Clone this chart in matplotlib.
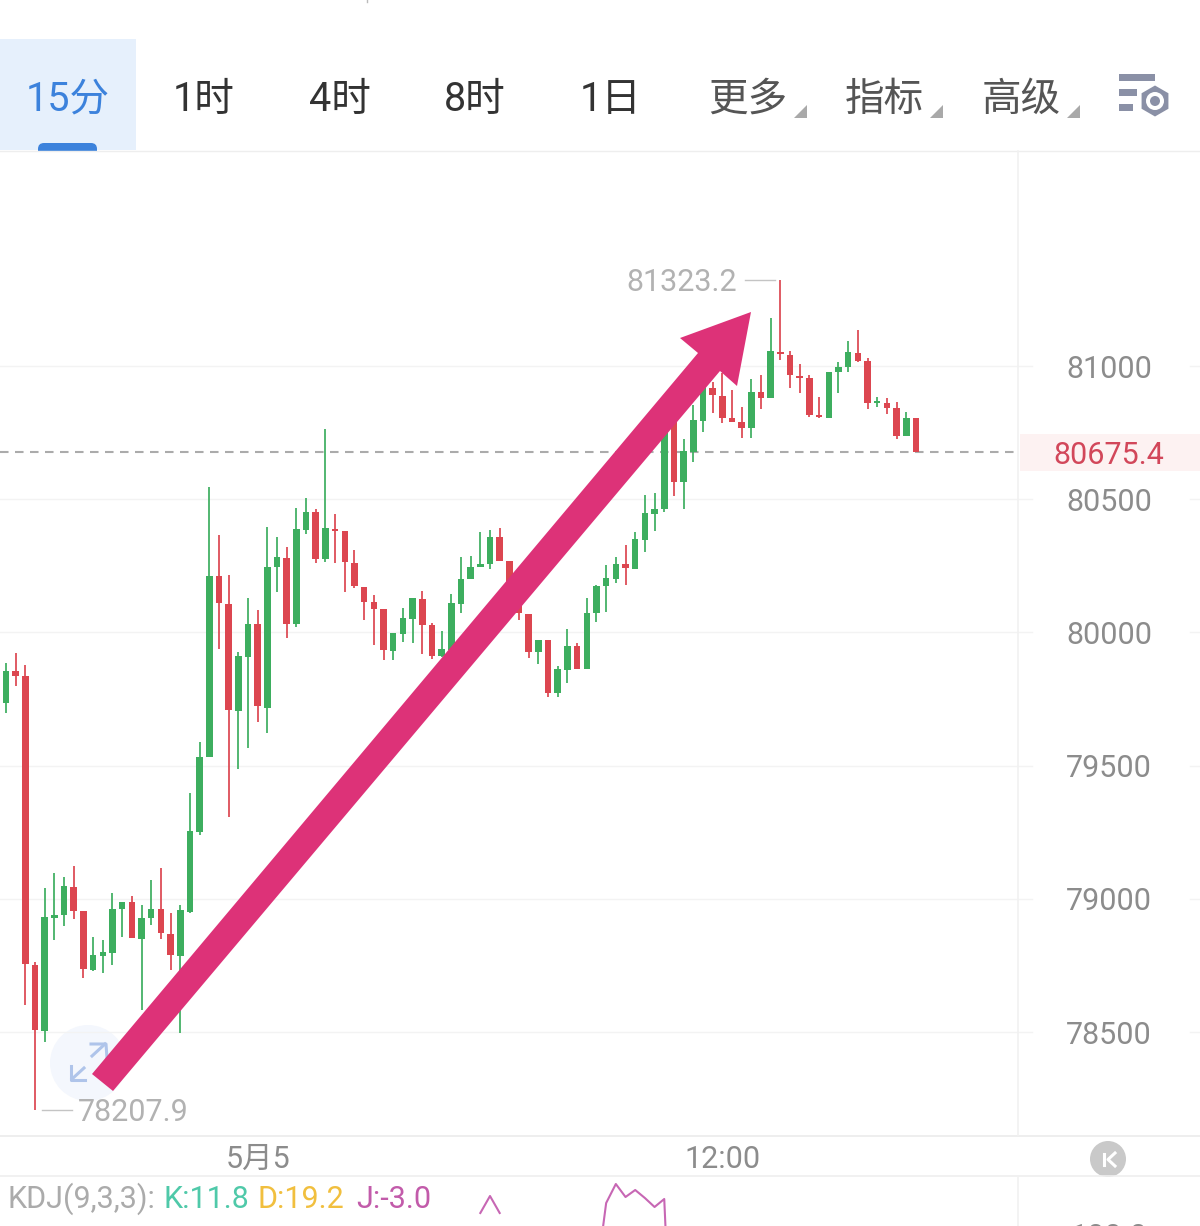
import matplotlib
matplotlib.use("Agg")
import matplotlib.pyplot as plt
from matplotlib.patches import Rectangle, Polygon, Circle, RegularPolygon, FancyBboxPatch

plt.rcParams['font.family'] = ['Roboto', 'Noto Sans CJK SC', 'DejaVu Sans']

# candles
highs = [79885, 79923, 79878, 78763, 79040, 79097, 79082, 79123, 78954, 78856,
         78845, 79022, 78988, 79010, 78977, 79071, 79115, 78947, 78977, 79397,
         79588, 80546, 80366, 80215, 79926, 80129, 80084, 80396, 80358, 80321,
         80467, 80504, 80463, 80763, 80444, 80381, 80309, 80170, 80140, 80088,
         79998, 80092, 80129, 80155, 80035, 80005, 80144, 80283, 80287, 80377,
         80384, 80392, 80268, 80159, 80069, 79971, 79971, 79874, 80013, 79960,
         80129, 80178, 80253, 80283, 80328, 80377, 80516, 80523, 80797, 80816,
         80726, 80854, 80966, 80940, 80974, 80910, 80846, 80951, 80966, 81180,
         81323.2, 81056, 81008, 80966, 80884, 80977, 81015, 81094, 81135, 81030,
         80884, 80880, 80865, 80827, 80805]
lows = [79697, 79799, 78601, 78207.9, 78462, 78845, 78898, 78924, 78702, 78729,
        78721, 78751, 78856, 78853, 78582, 78902, 78849, 78733, 78496, 78947,
        79239, 79532, 79938, 79307, 79487, 79566, 79664, 79622, 80152, 79979,
        80020, 80369, 80260, 80264, 80260, 80152, 80167, 80046, 79953, 79896,
        79896, 79964, 79960, 79919, 79900, 79908, 79930, 80073, 80200, 80245,
        80238, 80268, 80159, 80046, 79904, 79881, 79757, 79757, 79810, 79863,
        79863, 80039, 80077, 80185, 80178, 80238, 80302, 80381, 80452, 80512,
        80463, 80640, 80752, 80824, 80786, 80790, 80730, 80730, 80839, 80880,
        81023, 80917, 80899, 80809, 80805, 80805, 80899, 80977, 81015, 80839,
        80846, 80820, 80726, 80737, 80675.4]
body_tops = [79855, 79855, 79836, 78751, 78932, 78939, 79048, 79044, 78954, 78789,
             78800, 78962, 78988, 78988, 78928, 78962, 78962, 78868, 78958, 79254,
             79532, 80212, 80212, 80107, 79911, 80031, 80031, 80245, 80283, 80279,
             80388, 80452, 80452, 80392, 80388, 80381, 80260, 80170, 80114, 80088,
             79998, 80054, 80129, 80125, 80028, 79938, 80110, 80200, 80245, 80257,
             80358, 80358, 80268, 80159, 80069, 79971, 79971, 79863, 79949, 79949,
             80073, 80174, 80204, 80257, 80257, 80351, 80448, 80463, 80779, 80797,
             80681, 80797, 80929, 80917, 80887, 80805, 80790, 80902, 80902, 81056,
             81053, 81041, 80962, 80955, 80816, 80977, 80996, 81053, 81049, 81019,
             80865, 80861, 80842, 80805, 80805]
body_bottoms = [79735, 79836, 78755, 78507, 78504, 78928, 78939, 78954, 78736, 78733,
                78785, 78796, 78962, 78853, 78849, 78928, 78871, 78789, 78785, 78950,
                79251, 79532, 80110, 79709, 79705, 79908, 79724, 79716, 80245, 80031,
                80031, 80384, 80275, 80275, 80381, 80264, 80174, 80114, 80088, 79934,
                79930, 79994, 80050, 80028, 79911, 79911, 79934, 80107, 80200, 80245,
                80257, 80268, 80159, 80073, 79926, 79926, 79772, 79772, 79859, 79863,
                79863, 80073, 80174, 80200, 80242, 80238, 80347, 80444, 80463, 80565,
                80565, 80677, 80794, 80891, 80805, 80790, 80767, 80767, 80880, 80880,
                81045, 80966, 80955, 80816, 80809, 80805, 80977, 80996, 81019, 80861,
                80861, 80842, 80737, 80737, 80675.4]
# 1 = green candle, 0 = red candle
is_up = [1, 0, 0, 0, 1, 1, 1, 0, 0, 1,
         1, 1, 1, 0, 1, 1, 0, 0, 1, 1,
         1, 1, 0, 0, 1, 1, 0, 1, 1, 0,
         1, 1, 0, 1, 0, 0, 0, 0, 0, 0,
         1, 1, 1, 0, 0, 1, 1, 1, 1, 1,
         1, 0, 0, 0, 0, 1, 0, 1, 1, 0,
         1, 1, 1, 1, 0, 1, 1, 1, 1, 0,
         1, 1, 1, 0, 0, 0, 0, 1, 0, 1,
         0, 0, 0, 0, 0, 1, 1, 1, 0, 0,
         1, 0, 0, 1, 0]

price_ticks = [81000, 80500, 80000, 79500, 79000, 78500]
last_price = 80675.4
high_price = 81323.2
low_price = 78207.9
time_pos = [26, 74]
time_labels = ["5月5", "12:00"]

tabs = ["15分", "1时", "4时", "8时", "1日", "更多", "指标", "高级"]
tab_centers = [68, 204, 340, 475, 611, 748, 884, 1021]

# J line of the KDJ panel, nan where it drops under the crop
kdj_pos = [49, 50, 51, 52, 61, 62, 63, 64, 65, 66, 67, 68, 69]
kdj_j = [104, 121, 104, float("nan"), 40, 114, 133, 120, 127, 119, 110, 118, -100]

W, H = 1200, 1226
GREEN = "#3DAE5F"
RED = "#DC4650"
GRID = "#F3F3F3"
GREY = "#8C8C8C"
LIGHT = "#B2B2B2"
X0, DX = 6.0, 9.68


def px_x(x):
    return (x - X0) / DX


def axes_box(top, bottom):
    return [0, 1 - bottom / H, 1, (bottom - top) / H]


def price_label(x, y, text, color=GREY, ha="center", zorder=3):
    ax.annotate(text, (x, y), xytext=(0, -2.2), textcoords="offset points",
                ha=ha, va="center", fontsize=22, color=color, zorder=zorder)


fig = plt.figure(figsize=(12, 12.26), dpi=100, facecolor="white")

# pixel layer under the candles
back = fig.add_axes([0, 0, 1, 1], zorder=-1)
back.set_xlim(0, W)
back.set_ylim(H, 0)
back.axis("off")

# expand button
back.add_patch(Circle((88, 1063), 38, facecolor="#F4F7FD", edgecolor="none"))
back.plot([92, 105], [1056, 1044], color="#AFC4EA", lw=2.2)
back.plot([91, 106, 107], [1044, 1044, 1058], color="#AFC4EA", lw=2.2)
back.plot([72, 84], [1079, 1068], color="#AFC4EA", lw=2.2)
back.plot([71, 71, 85], [1066, 1080, 1080], color="#AFC4EA", lw=2.2)

# price panel, y limits fitted to the 81000 and 78500 grid rows
ax = fig.add_axes(axes_box(152, 1135))
ax.set_xlim(px_x(0), px_x(W))
ax.set_ylim(81000 - (1135 - 366) * 3.7538, 81000 + (366 - 152) * 3.7538)
ax.patch.set_alpha(0)
for s in ax.spines.values():
    s.set_visible(False)
ax.set_yticks([])
ax.set_xticks(time_pos, time_labels, fontsize=22, color=GREY)
ax.tick_params(axis="x", length=0, pad=7)

for p in price_ticks:
    ax.axhline(p, xmax=1032 / W, color=GRID, lw=1, zorder=1)
    ax.axhline(p, xmin=1190 / W, color=GRID, lw=1, zorder=1)
    price_label(px_x(1109), p, str(p))

ax.axhline(last_price, xmax=1015 / W, color="#ABABAB", lw=1.5, dashes=(4.1, 3.1), zorder=2)
ax.add_patch(Rectangle((px_x(1020), last_price - 71), px_x(W) - px_x(1020), 142,
                       facecolor="#FDF2F2", edgecolor="none", zorder=1))
price_label(px_x(1109), last_price, f"{last_price}", color="#D2475A")

for i in range(len(highs)):
    c = GREEN if is_up[i] else RED
    ax.vlines(i, lows[i], highs[i], color=c, lw=1.25, zorder=3)
    ax.bar(i, max(body_tops[i] - body_bottoms[i], 8), bottom=body_bottoms[i],
           width=0.68, color=c, zorder=4)

# high and low markers
ax.plot([px_x(745), px_x(775)], [high_price, high_price], color="#C4C4C4", lw=1, zorder=3)
price_label(px_x(737), high_price, f"{high_price}", color=LIGHT, ha="right")
ax.plot([px_x(42), px_x(72)], [low_price, low_price], color="#C4C4C4", lw=1, zorder=3)
price_label(px_x(78), low_price, f"{low_price}", color=LIGHT, ha="left")

# KDJ panel
ax_kdj = fig.add_axes(axes_box(1176, 1226))
ax_kdj.set_xlim(px_x(0), px_x(W))
ax_kdj.set_ylim(91, 141)
ax_kdj.axis("off")
ax_kdj.patch.set_alpha(0)
ax_kdj.plot(kdj_pos, kdj_j, color="#C767B4", lw=1.5)

# everything else on a pixel overlay
ui = fig.add_axes([0, 0, 1, 1], zorder=5)
ui.set_xlim(0, W)
ui.set_ylim(H, 0)
ui.axis("off")
ui.patch.set_alpha(0)

# tab bar
ui.plot([367, 367], [0, 2], color="#BBBBBB", lw=1)
ui.add_patch(Rectangle((0, 39), 136, 111, facecolor="#E6F0FC", edgecolor="none"))
ui.add_patch(FancyBboxPatch((38, 143), 59, 14, boxstyle="round,pad=0,rounding_size=6",
                            facecolor="#3C82DC", edgecolor="none"))
ui.add_patch(Rectangle((0, 150.5), W, 7, facecolor="white", edgecolor="none"))
for k, (t, x) in enumerate(zip(tabs, tab_centers)):
    ui.text(x, 99, t, ha="center", va="center", fontsize=28.5,
            color="#3C82DC" if k == 0 else ("#333333" if k < 5 else "#555555"))
for x in [807, 943, 1080]:
    ui.add_patch(Polygon([(x, 105), (x, 118), (x - 13, 118)], facecolor="#A9A9A9", edgecolor="none"))

# settings icon
for y, x1 in [(74, 1155), (89, 1137), (104, 1133)]:
    ui.add_patch(Rectangle((1119, y), x1 - 1119, 7, facecolor="#8A90A6", edgecolor="none"))
ui.add_patch(RegularPolygon((1155, 101), 6, radius=18, facecolor="white", edgecolor="none"))
ui.add_patch(RegularPolygon((1155, 101), 6, radius=15.5, facecolor="#8A90A6", edgecolor="none"))
ui.add_patch(Circle((1155, 101), 9, facecolor="white", edgecolor="none"))
ui.add_patch(Circle((1155, 101), 5, facecolor="#8A90A6", edgecolor="none"))

# frame lines
ui.plot([0, W], [150.5, 150.5], color="#EEEEEE", lw=1)
ui.plot([0, W], [1135.5, 1135.5], color="#EBEBEB", lw=1.2)
ui.plot([0, W], [1175.5, 1175.5], color="#EFEFEF", lw=1.2)
ui.plot([1018, 1018], [151, 1135], color="#F1F1F1", lw=1.2)
ui.plot([1018, 1018], [1176, H], color="#F1F1F1", lw=1.2)

# big arrow
ui.add_patch(Polygon([(92, 1074), (698, 353), (680, 338), (751, 312), (737, 386),
                      (720, 371), (113, 1091)], facecolor="#DD3278", edgecolor="none", zorder=6))

# collapse button
ui.add_patch(Circle((1108, 1159), 18, facecolor="#C9C9C9", edgecolor="none"))
ui.plot([1103.5, 1103.5], [1154, 1165], color="white", lw=2.2)
ui.plot([1115, 1108, 1115], [1153, 1159.5, 1166], color="white", lw=2.2)

# KDJ header
for x, t, c in [(8, "KDJ(9,3,3):", "#ABABAB"), (163, "K:11.8", "#4FC9A9"),
                (257, "D:19.2", "#F1BF3E"), (356, "J:-3.0", "#C25BAA")]:
    ui.text(x, 1199, t, ha="left", va="center", fontsize=22, color=c)
ui.text(1109, 1237, "100.0", ha="center", va="center", fontsize=22, color=GREY, clip_on=True)

fig.savefig("out.png", dpi=100)
